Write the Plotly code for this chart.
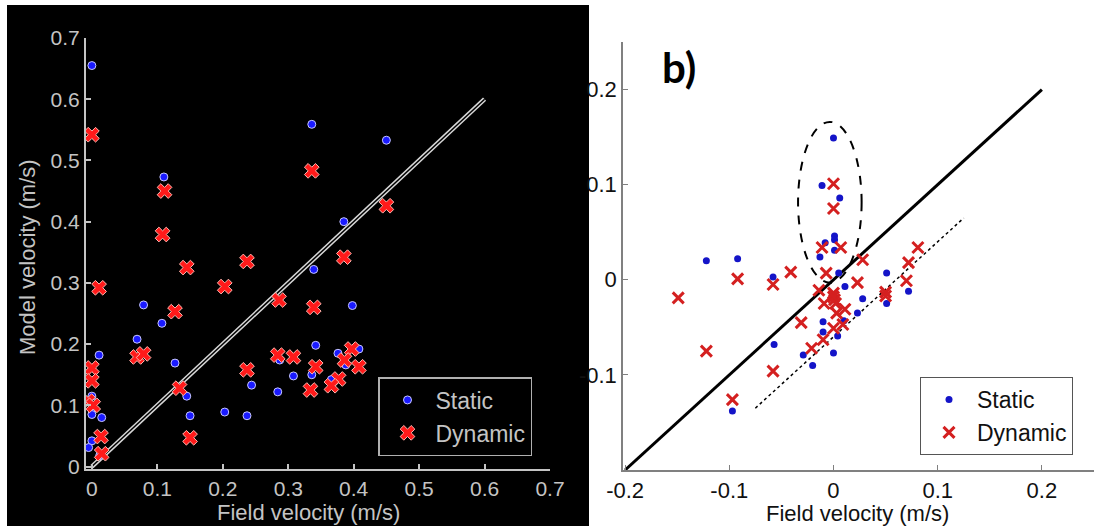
import plotly.graph_objects as go

# ---------------- data ----------------
# panel a (black background)
a_static_x = [0.0, 0.110, 0.336, 0.450, 0.385, 0.339, 0.398, 0.342, 0.376, 0.408,
              0.287, 0.388, 0.308, 0.336, 0.366, 0.284, 0.244, 0.079, 0.107, 0.069,
              0.011, 0.127, 0.145, 0.150, 0.203, 0.237, 0.0, 0.0, 0.0, 0.015,
              0.0, -0.005, 0.012]
a_static_y = [0.655, 0.473, 0.559, 0.533, 0.400, 0.322, 0.263, 0.198, 0.185, 0.192,
              0.174, 0.166, 0.148, 0.150, 0.142, 0.122, 0.133, 0.264, 0.234, 0.208,
              0.182, 0.169, 0.115, 0.083, 0.089, 0.083, 0.115, 0.093, 0.085, 0.080,
              0.042, 0.031, 0.018]
a_dynamic_x = [0.0, 0.111, 0.108, 0.336, 0.450, 0.385, 0.286, 0.339, 0.284, 0.308,
               0.342, 0.397, 0.386, 0.408, 0.377, 0.366, 0.334, 0.145, 0.203, 0.237,
               0.011, 0.127, 0.069, 0.079, 0.0, 0.0, -0.006, 0.002, 0.134, 0.150,
               0.014, 0.015, 0.237]
a_dynamic_y = [0.542, 0.450, 0.379, 0.483, 0.426, 0.342, 0.272, 0.260, 0.182, 0.179,
               0.163, 0.192, 0.174, 0.163, 0.143, 0.132, 0.125, 0.325, 0.294, 0.335,
               0.292, 0.253, 0.179, 0.184, 0.161, 0.140, 0.107, 0.100, 0.128, 0.047,
               0.049, 0.021, 0.158]
a_line = [0.0, 0.6]
a_ticks = [0, 0.1, 0.2, 0.3, 0.4, 0.5, 0.6, 0.7]
a_ticktext = ["0", "0.1", "0.2", "0.3", "0.4", "0.5", "0.6", "0.7"]

# panel b (white background)
b_static_x = [-0.122, -0.092, -0.058, -0.057, -0.097, 0.0, -0.011, 0.006, 0.001, 0.001,
              -0.008, 0.001, -0.013, 0.005, 0.011, 0.051, 0.072, 0.051, 0.028, 0.023,
              -0.010, 0.010, -0.010, 0.004, 0.0, -0.029, -0.020]
b_static_y = [0.020, 0.022, 0.003, -0.068, -0.138, 0.149, 0.099, 0.086, 0.046, 0.042,
              0.039, 0.031, 0.024, 0.007, -0.007, 0.007, -0.012, -0.025, -0.020, -0.035,
              -0.044, -0.043, -0.055, -0.059, -0.077, -0.079, -0.090]
b_dynamic_x = [-0.149, -0.092, -0.058, -0.041, -0.122, -0.058, -0.097, -0.031, 0.0, 0.0,
               -0.011, 0.007, -0.007, 0.028, 0.072, 0.081, -0.014, 0.0, 0.001, 0.0,
               0.002, -0.009, 0.023, 0.050, 0.050, 0.070, 0.003, 0.011, 0.009, 0.0,
               -0.010, -0.021]
b_dynamic_y = [-0.019, 0.001, -0.005, 0.008, -0.075, -0.096, -0.126, -0.045, 0.101, 0.075,
               0.034, 0.034, 0.007, 0.021, 0.018, 0.034, -0.011, -0.014, -0.021, -0.018,
               -0.025, -0.025, -0.003, -0.013, -0.017, -0.001, -0.035, -0.031, -0.047, -0.051,
               -0.063, -0.072]
b_line = [-0.2, 0.2]
b_offset_x = [-0.075, 0.125]
b_offset_y = [-0.135, 0.065]
b_xticks = [-0.2, -0.1, 0, 0.1, 0.2]
b_xticktext = ["-0.2", "-0.1", "0", "0.1", "0.2"]
b_yticks = [-0.1, 0, 0.1, 0.2]
b_yticktext = ["-0.1", "0", "0.1", "0.2"]

W, H = 1094, 526
FONT = "Liberation Sans, Arial, sans-serif"
GREY = "#c4c4c4"

fig = go.Figure()

# ---------- panel a ----------
fig.add_trace(go.Scatter(x=a_line, y=a_line, mode="lines", line=dict(color="#d8d8d8", width=4.5),
                         xaxis="x", yaxis="y", showlegend=False, hoverinfo="skip"))
fig.add_trace(go.Scatter(x=a_line, y=a_line, mode="lines", line=dict(color="#000000", width=1.5),
                         xaxis="x", yaxis="y", showlegend=False, hoverinfo="skip"))
fig.add_trace(go.Scatter(x=a_static_x, y=a_static_y, mode="markers", name="Static",
                         marker=dict(symbol="circle", size=8, color="#1a1aff",
                                     line=dict(color="#c8c8ff", width=1)),
                         xaxis="x", yaxis="y", legend="legend"))
fig.add_trace(go.Scatter(x=a_dynamic_x, y=a_dynamic_y, mode="markers", name="Dynamic",
                         marker=dict(symbol="x", size=13, color="#ff1a1a",
                                     line=dict(color="#ffb8b0", width=1)),
                         xaxis="x", yaxis="y", legend="legend"))

# ---------- panel b ----------
fig.add_trace(go.Scatter(x=b_line, y=b_line, mode="lines", line=dict(color="black", width=3),
                         xaxis="x2", yaxis="y2", showlegend=False, hoverinfo="skip"))
fig.add_trace(go.Scatter(x=b_offset_x, y=b_offset_y, mode="lines",
                         line=dict(color="black", width=1.5, dash="dot"),
                         xaxis="x2", yaxis="y2", showlegend=False, hoverinfo="skip"))
fig.add_trace(go.Scatter(x=b_static_x, y=b_static_y, mode="markers", name="Static",
                         marker=dict(symbol="circle", size=7, color="#1414c8"),
                         xaxis="x2", yaxis="y2", legend="legend2"))
fig.add_trace(go.Scatter(x=b_dynamic_x, y=b_dynamic_y, mode="markers", name="Dynamic",
                         marker=dict(symbol="x-thin", size=11, color="#d42020",
                                     line=dict(color="#d42020", width=3)),
                         xaxis="x2", yaxis="y2", legend="legend2"))

axis_a = dict(showline=True, linecolor=GREY, linewidth=2, ticks="inside", ticklen=5,
              tickcolor=GREY, tickwidth=1.5, showgrid=False, zeroline=False,
              tickfont=dict(family=FONT, size=21, color=GREY),
              tickvals=a_ticks, ticktext=a_ticktext, automargin=False)
axis_b = dict(showline=True, linecolor="#808080", linewidth=1.5, ticks="inside", ticklen=5,
              tickcolor="#808080", tickwidth=1, showgrid=False, zeroline=False,
              tickfont=dict(family=FONT, size=22, color="#111111"), automargin=False)

fig.update_layout(
    width=W, height=H, margin=dict(l=0, r=0, t=0, b=0, autoexpand=False),
    paper_bgcolor="white", plot_bgcolor="rgba(0,0,0,0)",
    xaxis=dict(axis_a, domain=[86 / W, 550 / W], range=[-0.009, 0.7], anchor="y"),
    yaxis=dict(axis_a, domain=[1 - 469 / H, 1 - 38 / H], range=[-0.004, 0.7], anchor="x"),
    xaxis2=dict(axis_b, domain=[623 / W, 1.0], range=[-0.202, 0.25], anchor="y2",
                tickvals=b_xticks, ticktext=b_xticktext),
    yaxis2=dict(axis_b, domain=[1 - 470 / H, 1 - 42 / H], range=[-0.2, 0.25], anchor="x2",
                tickvals=b_yticks, ticktext=b_yticktext),
    legend=dict(x=378 / W, y=1 - 377 / H, xanchor="left", yanchor="top",
                bgcolor="black", bordercolor="#b0b0b0", borderwidth=1.5,
                font=dict(family=FONT, size=23, color=GREY), itemwidth=46),
    legend2=dict(x=920 / W, y=1 - 377 / H, xanchor="left", yanchor="top",
                 bgcolor="white", bordercolor="#555555", borderwidth=1,
                 font=dict(family=FONT, size=23, color="#111111"), itemwidth=46),
    shapes=[
        dict(type="rect", xref="paper", yref="paper", x0=7 / W, x1=589 / W, y0=0, y1=1 - 5 / H,
             fillcolor="black", line=dict(width=0), layer="below"),
        dict(type="circle", xref="x2", yref="y2", x0=-0.034, x1=0.027, y0=-0.003, y1=0.166,
             line=dict(color="black", width=2, dash="dash"), layer="above"),
    ],
    annotations=[
        dict(text="<b>b)</b>", x=660 / W, y=1 - 40 / H, xref="paper", yref="paper",
             xanchor="left", yanchor="top", showarrow=False,
             font=dict(family="Lato, Open Sans, sans-serif", size=42, color="black")),
        dict(text="Field velocity (m/s)", x=308 / W, y=1 - 512 / H, xref="paper", yref="paper",
             xanchor="center", yanchor="middle", showarrow=False,
             font=dict(family=FONT, size=22, color=GREY)),
        dict(text="Model velocity (m/s)", x=27 / W, y=1 - 257 / H, xref="paper", yref="paper",
             xanchor="center", yanchor="middle", showarrow=False, textangle=-90,
             font=dict(family=FONT, size=22, color=GREY)),
        dict(text="Field velocity (m/s)", x=857 / W, y=1 - 513 / H, xref="paper", yref="paper",
             xanchor="center", yanchor="middle", showarrow=False,
             font=dict(family=FONT, size=22, color="#111111")),
    ],
)

fig.write_html(
    "out.html",
    config={"displayModeBar": False},
    post_script="document.body.style.margin='0';document.body.style.overflow='hidden';",
)
